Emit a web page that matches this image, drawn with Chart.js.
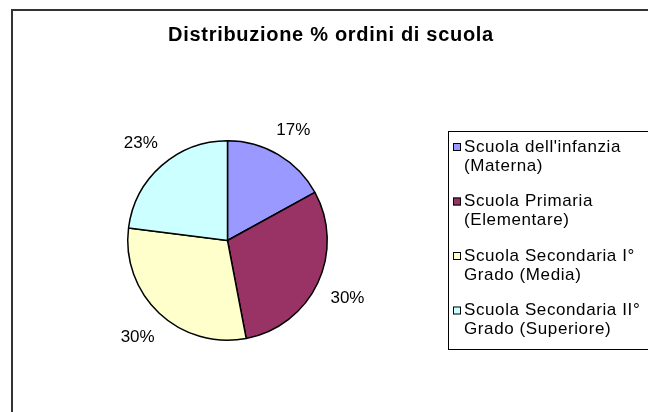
<!DOCTYPE html>
<html>
<head>
<meta charset="utf-8">
<script src="https://cdn.jsdelivr.net/npm/chart.js@4"></script>
<style>
    html, body { margin: 0; padding: 0; background: #fff; }
    #wrap { position: relative; width: 648px; height: 412px; overflow: hidden; }
    #frame {
        position: absolute; left: 11px; top: 9px; width: 700px; height: 500px;
        border-left: 2px solid #333; border-top: 2px solid #333;
    }
    #pie { position: absolute; left: 0; top: 0; }
</style>
</head>
<body>
<div id="wrap">
    <div id="frame"></div>
    <canvas id="pie" width="648" height="412"></canvas>
</div>
<script>
const chartTitle = 'Distribuzione % ordini di scuola';
const categories = [
    ["Scuola dell'infanzia", '(Materna)'],
    ['Scuola Primaria', '(Elementare)'],
    ['Scuola Secondaria I°', 'Grado (Media)'],
    ['Scuola Secondaria II°', 'Grado (Superiore)']
];
const shares = [17, 30, 30, 23];
const sliceColors = ['#9999FF', '#993366', '#FFFFCC', '#CCFFFF'];

const FONT = '"Liberation Sans", Arial, sans-serif';

// Title drawn by hand so it sits where the original has it
const titlePlugin = {
    id: 'titlePlugin',
    afterDraw(chart) {
        const ctx = chart.ctx;
        ctx.save();
        ctx.font = 'bold 20px ' + FONT;
        ctx.letterSpacing = '0.7px';
        ctx.fillStyle = '#000';
        ctx.textAlign = 'center';
        ctx.textBaseline = 'middle';
        ctx.fillText(chartTitle, 331, 35);
        ctx.restore();
    }
};

// Percent labels outside the slices
const pctLabels = {
    id: 'pctLabels',
    afterDatasetsDraw(chart) {
        const ctx = chart.ctx;
        const total = shares.reduce((a, b) => a + b, 0);
        ctx.save();
        ctx.font = '17px ' + FONT;
        ctx.fillStyle = '#000';
        ctx.textAlign = 'center';
        ctx.textBaseline = 'middle';
        chart.getDatasetMeta(0).data.forEach((arc, i) => {
            const text = Math.round(shares[i] / total * 100) + '%';
            const w = ctx.measureText(text).width, h = 16;
            const mid = (arc.startAngle + arc.endAngle) / 2;
            const cx = Math.cos(mid), cy = Math.sin(mid);
            const r = arc.outerRadius + 14 + Math.abs(cx) * w / 2 + Math.abs(cy) * h / 2;
            ctx.fillText(text, arc.x + cx * r, arc.y + cy * r + 1);
        });
        ctx.restore();
    }
};

// Boxed legend with two-line entries
const boxLegend = {
    id: 'boxLegend',
    afterDraw(chart) {
        const ctx = chart.ctx;
        ctx.save();
        ctx.strokeStyle = '#000';
        ctx.lineWidth = 1;
        ctx.strokeRect(448.5, 131.5, 240, 218);
        ctx.font = '17px ' + FONT;
        ctx.letterSpacing = '0.6px';
        ctx.textBaseline = 'middle';
        categories.forEach((lines, i) => {
            const y = 147 + i * 54.5;
            ctx.fillStyle = sliceColors[i];
            ctx.fillRect(453, y - 4, 8, 8);
            ctx.strokeRect(453.5, y - 3.5, 7, 7);
            ctx.fillStyle = '#000';
            lines.forEach((line, j) => ctx.fillText(line, 464, y + j * 19));
        });
        ctx.restore();
    }
};

new Chart(document.getElementById('pie'), {
    type: 'pie',
    data: {
        labels: categories,
        datasets: [{
            data: shares,
            backgroundColor: sliceColors,
            borderColor: '#000',
            borderWidth: 1.5
        }]
    },
    options: {
        responsive: false,
        animation: false,
        layout: { padding: { left: 126, right: 319, top: 140, bottom: 71 } },
        plugins: {
            legend: { display: false },
            tooltip: { enabled: false }
        }
    },
    plugins: [titlePlugin, pctLabels, boxLegend]
});
</script>
</body>
</html>
